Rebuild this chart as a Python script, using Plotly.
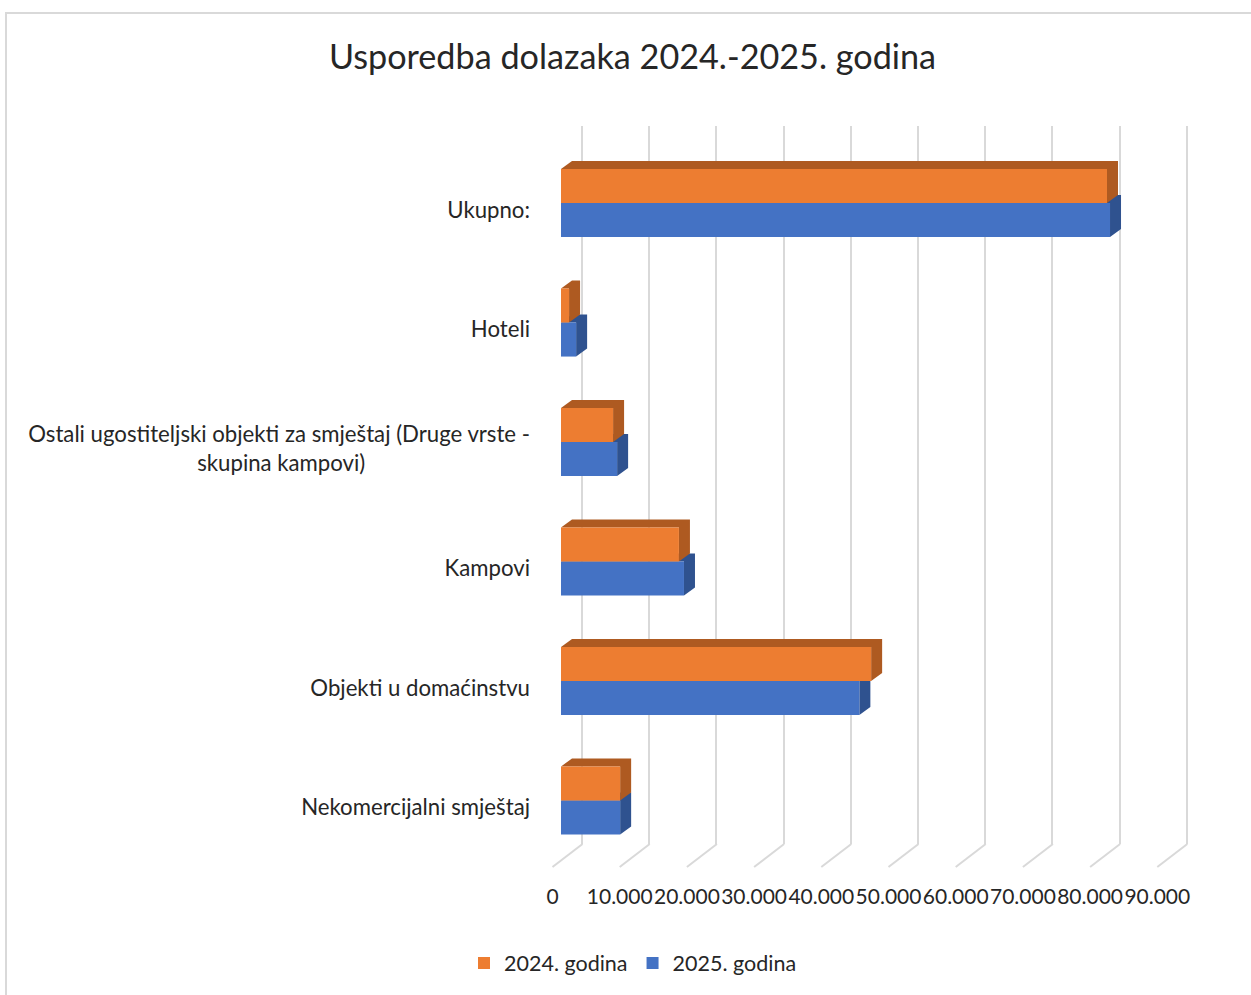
import plotly.graph_objects as go

# ---- data ----
categories = ["Nekomercijalni smještaj", "Objekti u domaćinstvu", "Kampovi",
              "Ostali ugostiteljski objekti za smještaj (Druge vrste -<br>skupina kampovi)" + "\u00a0" * 29,
              "Hoteli", "Ukupno:"]
values_2025 = [8800, 44400, 18300, 8350, 2250, 81700]
values_2024 = [8800, 46150, 17550, 7750, 1200, 81250]
tick_values = [0, 10000, 20000, 30000, 40000, 50000, 60000, 70000, 80000, 90000]
tick_labels = ["0", "10.000", "20.000", "30.000", "40.000", "50.000", "60.000", "70.000", "80.000", "90.000"]
positions = [0, 1, 2, 3, 4, 5]

# ---- layout geometry (pixels) ----
W, H = 1251, 995
L, R = 531, 1200           # plot left / right
T, B = 120, 880            # plot top / bottom
PX_PER_UNIT = 67.2 / 10000
PX_PER_CAT = 119.5
BAR = 0.285
DX = 11 / PX_PER_UNIT      # bar depth in value units
DY = 8 / PX_PER_CAT        # bar depth in category units
font = "Lato, Carlito, sans-serif"
GRID = "#d9d9d9"
TEXT = "#262626"


def xr(zero_px):
    return [(L - zero_px) / PX_PER_UNIT, (R - zero_px) / PX_PER_UNIT]


def yr(zero_px, top=T, bottom=B):
    return [(zero_px - bottom) / PX_PER_CAT, (zero_px - top) / PX_PER_CAT]


def depth_faces(values, low):
    xs, ys = [], []
    for v, p in zip(values, positions):
        y0, y1 = p + low, p + low + BAR
        xs += [0, DX, v + DX, v + DX, v, v, 0, None]
        ys += [y1, y1 + DY, y1 + DY, y0 + DY, y0, y1, y1, None]
    return xs, ys


def px_to_cat(px):
    return (800.5 - px) / PX_PER_CAT


fig = go.Figure()

# anchors so that the back wall and the category axis get drawn
fig.add_trace(go.Scatter(x=tick_values, y=[0] * len(tick_values), xaxis="x", yaxis="y", mode="none",
                         hoverinfo="skip", showlegend=False))
fig.add_trace(go.Scatter(x=[0] * len(positions), y=positions, xaxis="x2", yaxis="y4", mode="none",
                         hoverinfo="skip", showlegend=False))

# depth faces (behind the bars)
for vals, low, col in [(values_2025, -BAR, "#2F528F"), (values_2024, 0, "#AE5A21")]:
    xs, ys = depth_faces(vals, low)
    fig.add_trace(go.Scatter(x=xs, y=ys, xaxis="x2", yaxis="y2", mode="lines", fill="toself",
                             fillcolor=col, line=dict(width=0), hoverinfo="skip", showlegend=False))

# floor lines, from each tick on the front edge to the back wall
dx_floor = 30 / PX_PER_UNIT
fx, fy = [], []
for v in tick_values:
    fx += [v, v + dx_floor, None]
    fy += [px_to_cat(867), px_to_cat(844), None]
fig.add_trace(go.Scatter(x=fx, y=fy, xaxis="x4", yaxis="y2", mode="lines",
                         line=dict(color=GRID, width=2), hoverinfo="skip", showlegend=False))

# front faces
fig.add_trace(go.Bar(y=positions, x=values_2025, name="2025. godina", orientation="h",
                     marker=dict(color="#4472C4", line=dict(width=0)), xaxis="x3", yaxis="y3"))
fig.add_trace(go.Bar(y=positions, x=values_2024, name="2024. godina", orientation="h",
                     marker=dict(color="#ED7D31", line=dict(width=0)), xaxis="x3", yaxis="y3"))

dom_x = [L / W, R / W]
dom_y = [1 - B / H, 1 - T / H]
hidden = dict(showgrid=False, zeroline=False, showticklabels=False, showline=False, ticks="")

fig.update_layout(
    width=W, height=H, autosize=False,
    margin=dict(l=0, r=0, t=0, b=0),
    paper_bgcolor="white", plot_bgcolor="rgba(0,0,0,0)",
    font=dict(family=font, size=20, color=TEXT),
    barmode="group", bargap=1 - 2 * BAR,
    title=dict(text="Usporedba dolazaka 2024.-2025. godina", x=632.5 / W, y=1 - 57 / H,
               xanchor="center", yanchor="middle", font=dict(family=font, size=34.2, color=TEXT)),
    legend=dict(orientation="h", traceorder="reversed", x=633 / W, y=1 - 963 / H,
                xanchor="center", yanchor="middle", font=dict(size=21.5)),
    # back wall with its gridlines
    xaxis=dict(domain=dom_x, range=xr(582), anchor="y", tickmode="array", tickvals=tick_values,
               showgrid=True, gridcolor=GRID, gridwidth=2, zeroline=False,
               showticklabels=False, showline=False, ticks=""),
    yaxis=dict(domain=[1 - 844 / H, 1 - 126 / H], range=[0, 1], anchor="x", **hidden),
    # depth faces
    xaxis2=dict(domain=dom_x, range=xr(561), anchor="y2", **hidden),
    yaxis2=dict(domain=dom_y, range=yr(800.5), anchor="x2", **hidden),
    # bars
    xaxis3=dict(domain=dom_x, range=xr(561), anchor="y3", overlaying="x2", **hidden),
    yaxis3=dict(domain=dom_y, range=yr(800.5), anchor="x3", overlaying="y2", **hidden),
    # value tick labels on the front edge
    xaxis4=dict(domain=dom_x, range=xr(552.5), anchor="free", position=1 - 882 / H, overlaying="x2",
                tickmode="array", tickvals=tick_values, ticktext=tick_labels, tickangle=0,
                showgrid=False, zeroline=False, showline=False, ticks="",
                tickfont=dict(size=21, color=TEXT)),
    # category labels
    yaxis4=dict(domain=dom_y, range=yr(807.5), anchor="x2", overlaying="y2", side="left",
                tickmode="array", tickvals=positions, ticktext=categories,
                showgrid=False, zeroline=False, showline=False, ticks="",
                tickfont=dict(size=22.2, color=TEXT)),
    shapes=[dict(type="rect", xref="paper", yref="paper", x0=6 / W, x1=1260 / W, y0=-0.02, y1=1 - 13 / H,
                 line=dict(color=GRID, width=2), layer="below")],
)

fig.write_html("out.html", config=dict(displayModeBar=False),
               post_script="document.body.style.margin='0';document.documentElement.style.overflow='hidden';")
